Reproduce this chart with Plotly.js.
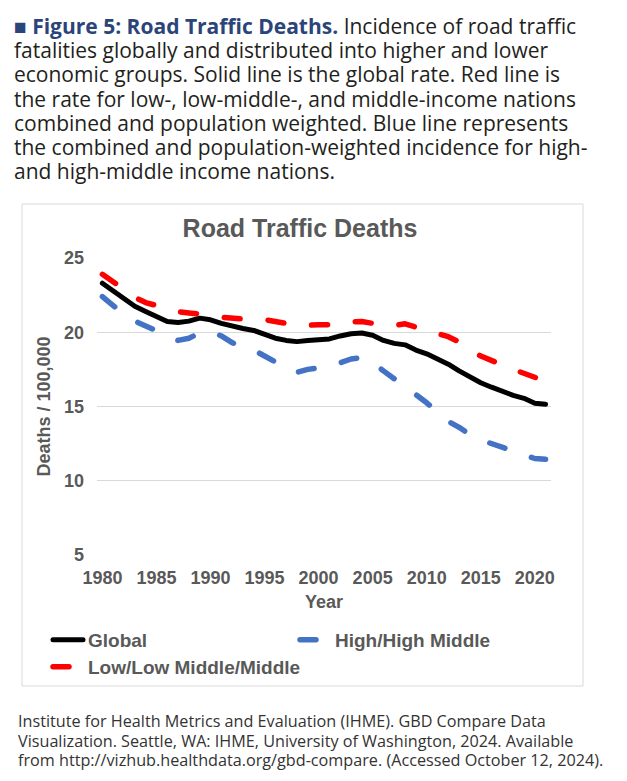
<!DOCTYPE html>
<html><head><meta charset="utf-8">
<script src="https://cdn.plot.ly/plotly-3.0.1.min.js"></script>
<style>
html,body{margin:0;padding:0;background:#fff;}
#chart{width:627px;height:781px;}
.js-line{stroke-linecap:round;stroke-linejoin:round;}
</style></head><body><div id="chart"></div>
<script>
const years = [1980,1981,1982,1983,1984,1985,1986,1987,1988,1989,1990,1991,1992,1993,1994,1995,1996,1997,1998,1999,2000,2001,2002,2003,2004,2005,2006,2007,2008,2009,2010,2011,2012,2013,2014,2015,2016,2017,2018,2019,2020,2021];
const globalRate = [23.3,22.8,22.2,21.75,21.4,21.05,20.72,20.65,20.75,20.95,20.84,20.6,20.4,20.25,20.12,19.85,19.6,19.45,19.37,19.45,19.5,19.55,19.75,19.9,19.95,19.8,19.45,19.25,19.15,18.8,18.55,18.2,17.85,17.4,17.0,16.6,16.3,16.0,15.75,15.55,15.22,15.15];
const lowMiddleRate = [23.9,23.45,22.9,22.35,22.0,21.8,21.55,21.38,21.3,21.25,21.15,21.0,20.92,20.85,20.85,20.85,20.75,20.6,20.45,20.43,20.5,20.5,20.55,20.7,20.72,20.6,20.45,20.45,20.57,20.35,20.15,19.95,19.7,19.35,18.8,18.4,18.05,17.8,17.5,17.2,16.9,16.7];
const highMiddleRate = [22.4,21.8,21.2,20.75,20.45,20.1,19.7,19.45,19.6,19.95,20.05,19.75,19.3,19.0,18.8,18.45,18.0,17.5,17.3,17.5,17.6,17.7,17.95,18.2,18.3,17.95,17.4,16.9,16.4,15.8,15.25,14.6,14.0,13.6,13.1,12.75,12.5,12.3,12.0,11.8,11.5,11.45];
const xTickVals = [1980,1985,1990,1995,2000,2005,2010,2015,2020];
const xTickText = ['1980','1985','1990','1995','2000','2005','2010','2015','2020'];
const yTickVals = [5,10,15,20,25];
const yTickText = ['5','10','15','20','25'];
const seriesNames = ['Global','High/High Middle','Low/Low Middle/Middle'];
const chartTitle = 'Road Traffic Deaths';
const xTitle = 'Year';
const yTitle = 'Deaths / 100,000';
const captionLines = [
  '<span style="color:#2B4479"><b>■ Figure 5: Road Traffic Deaths.</b></span> Incidence of road traffic',
  'fatalities globally and distributed into higher and lower',
  'economic groups. Solid line is the global rate. Red line is',
  'the rate for low-, low-middle-, and middle-income nations',
  'combined and population weighted. Blue line represents',
  'the combined and population-weighted incidence for high-',
  'and high-middle income nations.'
];
const citationLines = [
  'Institute for Health Metrics and Evaluation (IHME). GBD Compare Data',
  'Visualization. Seattle, WA: IHME, University of Washington, 2024. Available',
  'from http://vizhub.healthdata.org/gbd-compare. (Accessed October 12, 2024).'
];

// plot area in pixels
const L = 97, T = 258, W = 454, H = 297, FW = 627, FH = 781;
const px = p => (p - L) / W;
const py = q => (T + H - q) / H;

const gray = '#595959';
const axFont = {family: 'Liberation Sans, Arial, sans-serif', size: 18, color: gray, weight: 'bold'};

const traces = [
  {x: years, y: globalRate, name: seriesNames[0], type: 'scatter', mode: 'lines',
   line: {color: '#000000', width: 5}, legend: 'legend'},
  {x: years, y: highMiddleRate, name: seriesNames[1], type: 'scatter', mode: 'lines',
   line: {color: '#4472C4', width: 5.5, dash: '16px,28px'}, legend: 'legend'},
  {x: years, y: lowMiddleRate, name: seriesNames[2], type: 'scatter', mode: 'lines',
   line: {color: '#FF0000', width: 5.5, dash: '16px,28px'}, legend: 'legend2'}
];

const annotations = [];
const capY = [26, 50, 74, 99, 123, 147, 171];
captionLines.forEach((t, i) => annotations.push({
  text: t, xref: 'paper', yref: 'paper', x: px(13), y: py(capY[i]), xanchor: 'left', yanchor: 'middle',
  showarrow: false, align: 'left', borderpad: 0,
  font: {family: 'Open Sans, sans-serif', size: 21, color: '#231F20'}
}));
const citY = [721, 741, 760];
citationLines.forEach((t, i) => annotations.push({
  text: t, xref: 'paper', yref: 'paper', x: px(17), y: py(citY[i]), xanchor: 'left', yanchor: 'middle',
  showarrow: false, align: 'left', borderpad: 0,
  font: {family: 'Open Sans, sans-serif', size: 16.2, color: '#333333'}
}));

const legendFont = {family: 'Liberation Sans, Arial, sans-serif', size: 19, color: gray, weight: 'bold'};

const layout = {
  width: FW, height: FH,
  margin: {l: L, r: FW - L - W, t: T, b: FH - T - H, autoexpand: false},
  paper_bgcolor: '#ffffff', plot_bgcolor: '#ffffff',
  title: {text: chartTitle, xref: 'container', yref: 'container', x: 300 / FW, y: (FH - 228) / FH,
          xanchor: 'center', yanchor: 'middle',
          font: {family: 'Liberation Sans, Arial, sans-serif', size: 25, color: gray, weight: 'bold'}},
  xaxis: {range: [1979.5, 2021.5], tickmode: 'array', tickvals: xTickVals, ticktext: xTickText,
          showgrid: false, zeroline: false, showline: false, ticks: '',
          tickfont: axFont, ticklabelstandoff: 10,
          title: {text: xTitle, font: axFont, standoff: 8}},
  yaxis: {range: [5, 25], tickmode: 'array', tickvals: yTickVals, ticktext: yTickText,
          showgrid: true, gridcolor: '#D9D9D9', gridwidth: 1.3, zeroline: false, showline: false, ticks: '',
          tickfont: axFont, ticklabelstandoff: 12,
          title: {text: yTitle, font: axFont, standoff: 8}},
  showlegend: true,
  legend: {orientation: 'h', xref: 'paper', yref: 'paper', x: px(48), y: py(621), xanchor: 'left', yanchor: 'top',
           entrywidth: 202, entrywidthmode: 'pixels', font: legendFont, bgcolor: 'rgba(0,0,0,0)', traceorder: 'normal'},
  legend2: {orientation: 'h', xref: 'paper', yref: 'paper', x: px(48), y: py(648), xanchor: 'left', yanchor: 'top',
           font: legendFont, bgcolor: 'rgba(0,0,0,0)'},
  shapes: [{type: 'rect', xref: 'paper', yref: 'paper', x0: px(22), x1: px(583), y0: py(686), y1: py(204),
            line: {color: '#D9D9D9', width: 1}, fillcolor: 'rgba(0,0,0,0)', layer: 'below'}],
  annotations: annotations
};

Plotly.newPlot('chart', traces, layout, {displayModeBar: false, staticPlot: true});
</script></body></html>
